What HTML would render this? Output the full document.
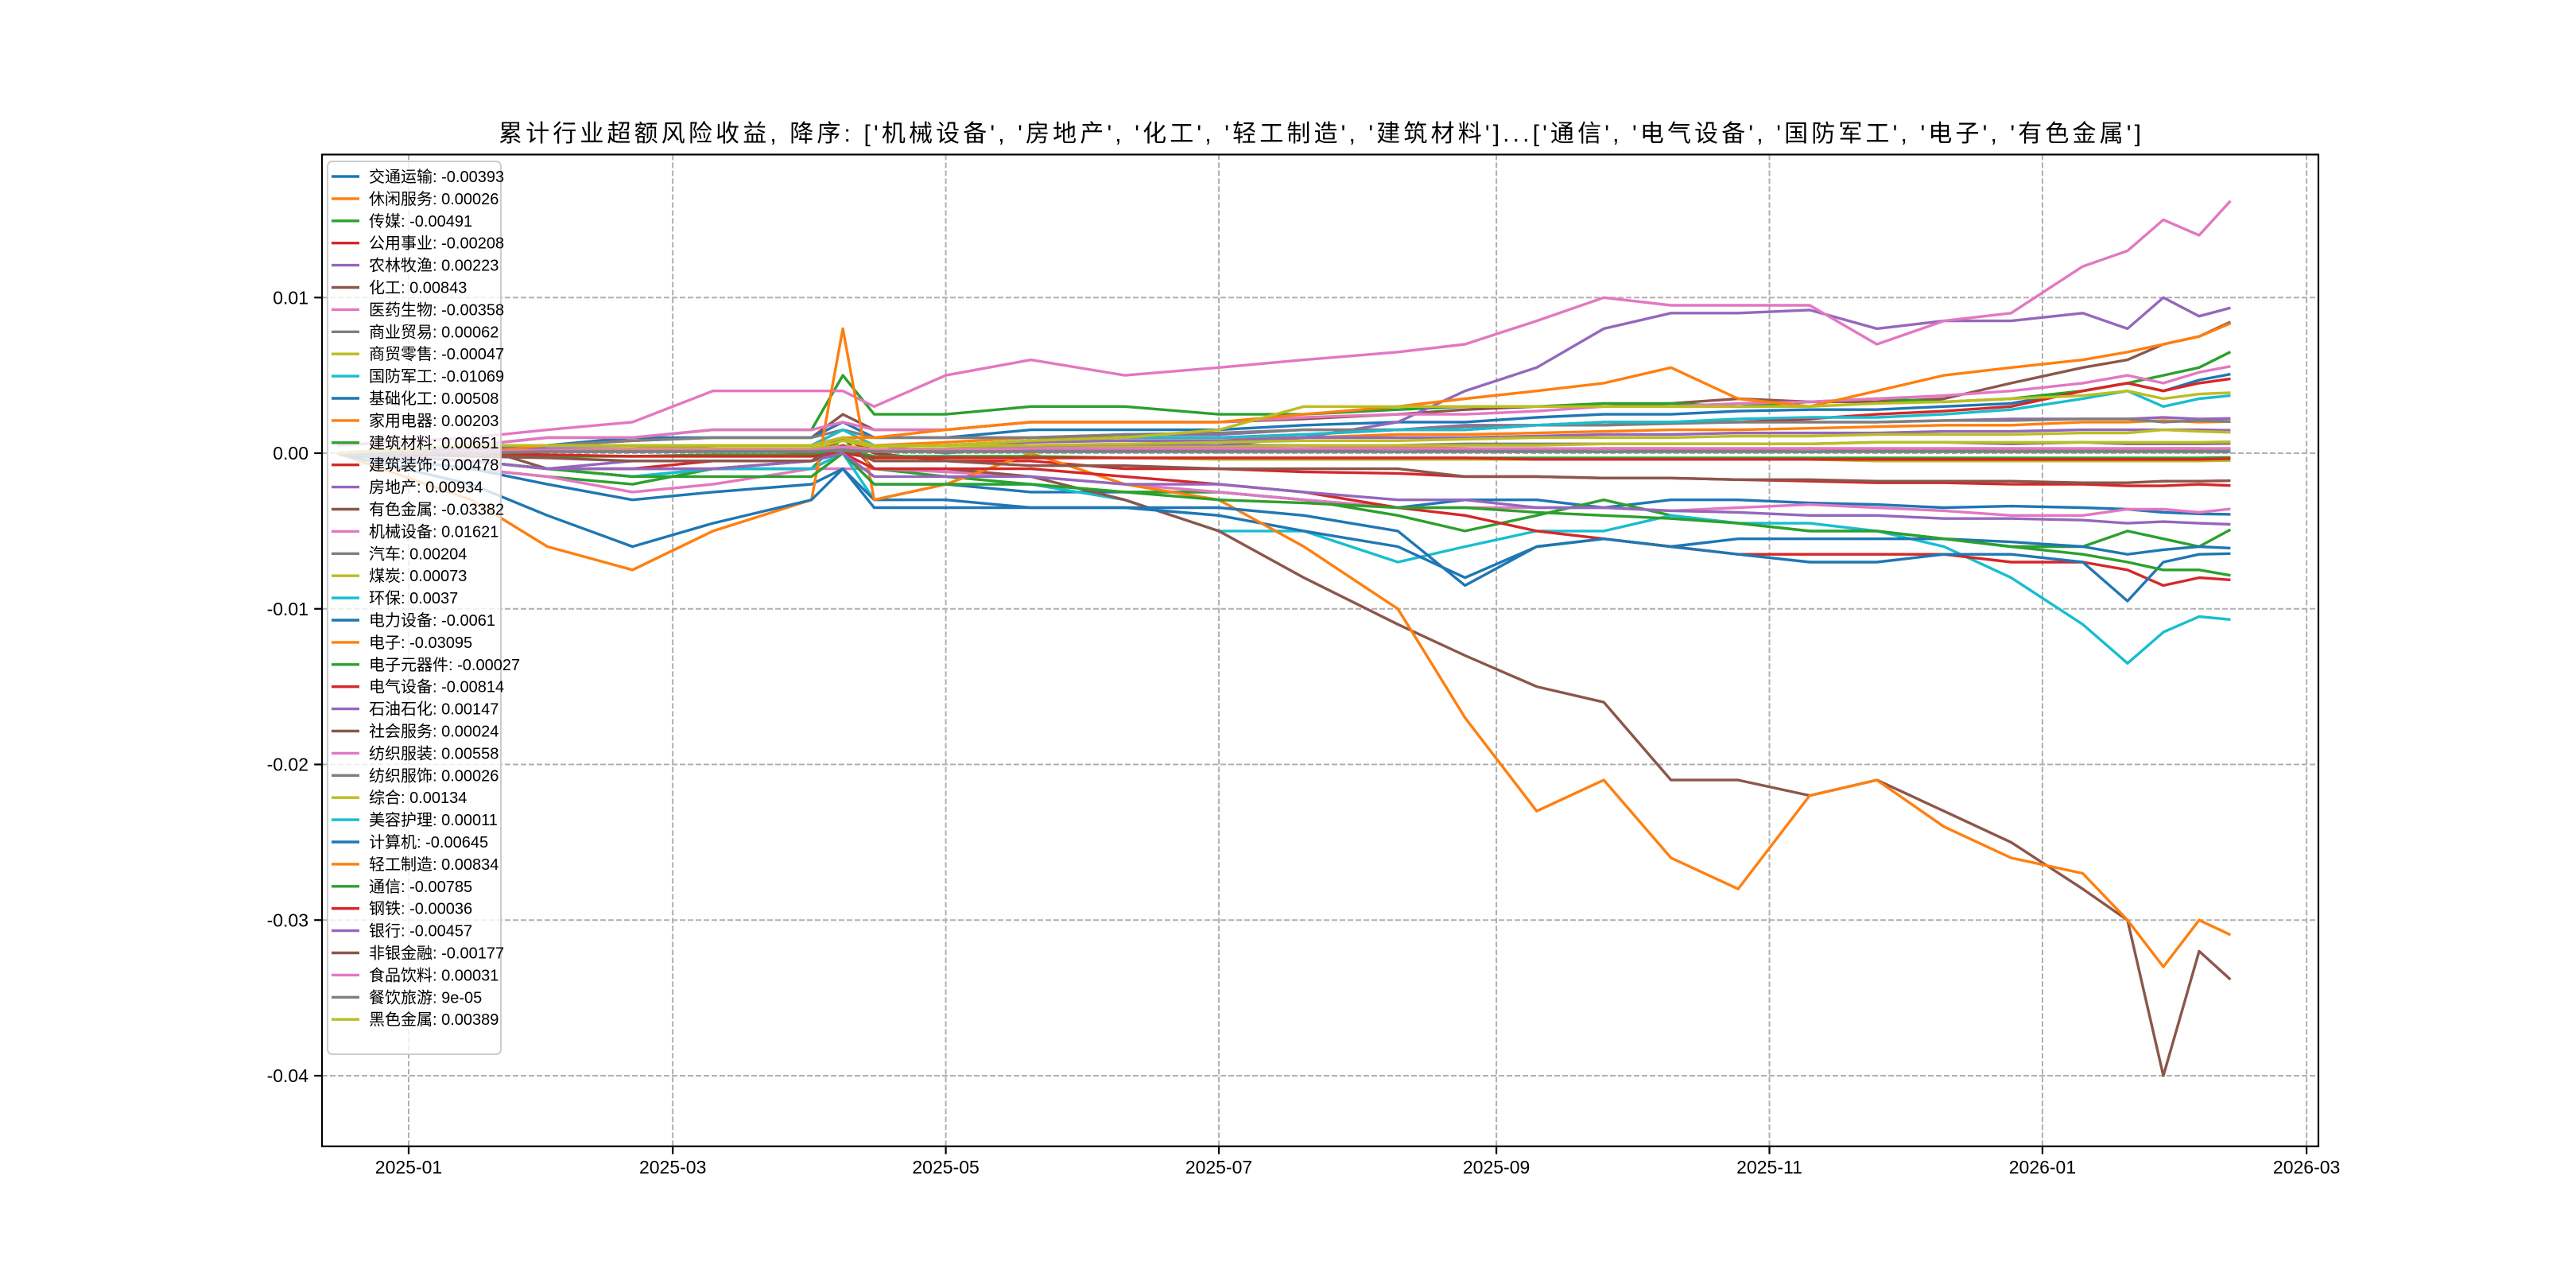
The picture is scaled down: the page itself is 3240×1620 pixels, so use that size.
<!DOCTYPE html>
<html><head><meta charset="utf-8">
<style>
html,body{margin:0;padding:0;background:#fff;}
svg{display:block;}
text{font-family:"Liberation Sans","Noto Sans CJK SC",sans-serif;}
</style></head>
<body>
<svg id="chart" xmlns="http://www.w3.org/2000/svg" width="3240" height="1620" viewBox="0 0 3240 1620">
<rect x="0" y="0" width="3240" height="1620" fill="#fff"/>
<text x="627" y="178" textLength="2066" lengthAdjust="spacing" font-size="30" fill="#000">累计行业超额风险收益,  降序: ['机械设备', '房地产', '化工', '轻工制造', '建筑材料']...['通信', '电气设备', '国防军工', '电子', '有色金属']</text>
<g id="grid"></g>
<g id="lines"></g>
<rect x="405" y="194.4" width="2511" height="1247.4" fill="none" stroke="#000" stroke-width="2.2"/>
<g id="ticks"></g>
<g id="legend"></g>
</svg>
<script>
const dates = ["2024-12-16","2025-01-15","2025-02-01","2025-02-20","2025-03-10","2025-04-01","2025-04-08","2025-04-15","2025-05-01","2025-05-20","2025-06-10","2025-07-01","2025-07-20","2025-08-10","2025-08-25","2025-09-10","2025-09-25","2025-10-10","2025-10-25","2025-11-10","2025-11-25","2025-12-10","2025-12-25","2026-01-10","2026-01-20","2026-01-28","2026-02-05","2026-02-12"];
const names = ["交通运输","休闲服务","传媒","公用事业","农林牧渔","化工","医药生物","商业贸易","商贸零售","国防军工","基础化工","家用电器","建筑材料","建筑装饰","房地产","有色金属","机械设备","汽车","煤炭","环保","电力设备","电子","电子元器件","电气设备","石油石化","社会服务","纺织服装","纺织服饰","综合","美容护理","计算机","轻工制造","通信","钢铁","银行","非银金融","食品饮料","餐饮旅游","黑色金属"];
const finalLabels = ["-0.00393","0.00026","-0.00491","-0.00208","0.00223","0.00843","-0.00358","0.00062","-0.00047","-0.01069","0.00508","0.00203","0.00651","0.00478","0.00934","-0.03382","0.01621","0.00204","0.00073","0.0037","-0.0061","-0.03095","-0.00027","-0.00814","0.00147","0.00024","0.00558","0.00026","0.00134","0.00011","-0.00645","0.00834","-0.00785","-0.00036","-0.00457","-0.00177","0.00031","9e-05","0.00389"];
// values in units of 1e-3
const s_jtys = [0,-.5,-1,-1.5,-1,-1,0,-2,-2,-2.5,-2.5,-2.5,-3,-3.5,-3,-3,-3.5,-3,-3,-3.2,-3.3,-3.5,-3.4,-3.5,-3.6,-3.8,-3.9,-3.93];
const s_xxfw = [0,.2,.3,.2,.3,.2,.5,.1,.2,.3,.2,.2,.3,.4,.3,.2,.3,.3,.2,.3,.2,.3,.2,.3,.2,.3,.3,.26];
const s_cm = [0,-1,-1.5,-2,-1,-1,1,-1,-1.5,-2,-2.5,-2.5,-3,-4,-5,-4,-3,-4,-4.5,-5,-5,-5.5,-6,-6,-5,-5.5,-6,-4.91];
const s_gysy = [0,0,.5,.5,.3,0,1,0,-.5,-.5,-1,-1,-1.2,-1.3,-1.5,-1.5,-1.6,-1.6,-1.7,-1.8,-1.9,-1.9,-2,-2,-2.1,-2.1,-2,-2.08];
const s_nlmy = [0,.3,.5,.5,.5,.5,1.5,1,1,1,1.2,1.2,1.5,1.5,1.8,1.8,1.8,2,2,2,2,2.1,2.2,2.2,2.2,2.3,2.2,2.23];
const s_hg = [0,.5,.5,.8,1,1,2.5,1.5,1.5,2,2,2,2.2,2.5,2.8,3,3,3.2,3.5,3.3,3.3,3.5,4.5,5.5,6,7,7.5,8.43];
const s_yysw = [0,-1,-1.5,-2.5,-2,-1,-1,-1,-1.2,-1.5,-2,-2.5,-3,-3.5,-3.5,-3.5,-3.5,-3.7,-3.5,-3.3,-3.5,-3.7,-4,-4,-3.6,-3.6,-3.8,-3.58];
const s_syjm = [0,0,.3,.3,.3,.3,.5,.2,.3,.4,.5,.5,.5,.5,.6,.6,.6,.6,.6,.6,.7,.7,.6,.7,.6,.6,.6,.62];
const s_smls = [0,0,-.2,-.2,-.2,-.2,0,-.3,-.3,-.3,-.3,-.4,-.4,-.4,-.4,-.4,-.4,-.4,-.4,-.4,-.5,-.5,-.5,-.5,-.5,-.5,-.5,-.47];
const s_gfjg = [0,-.5,-1,-1.5,-1,-1,0,-3,-2,-2,-3,-5,-5,-7,-6,-5,-5,-4,-4.5,-4.5,-5,-6,-8,-11,-13.5,-11.5,-10.5,-10.69];
const s_jchg = [0,.5,.5,1,1,1,2,1,1,1.5,1.5,1.5,1.8,2,2,2.3,2.5,2.5,2.7,2.8,2.8,3,3.2,4,4.5,4,4.7,5.08];
const s_jydq = [0,.3,.5,.5,.5,.5,1,.5,.7,1,1,1,1,1.2,1.2,1.3,1.4,1.5,1.5,1.6,1.7,1.8,1.8,2,2,2.1,2,2.03];
const s_jzcl = [0,.5,1,1,1.5,1.5,5,2.5,2.5,3,3,2.5,2.5,2.8,3,3,3.2,3.2,3,3.3,3.5,3.3,3.5,4,4.5,5,5.5,6.51];
const s_jzzs = [0,.5,.5,.5,.5,.5,1,.5,.5,.8,1,1,1.2,1.5,1.5,1.8,2,2,2,2.2,2.5,2.7,3,4,4.5,4,4.5,4.78];
const s_fdc = [0,-.5,-1,-.5,-.5,-.5,0,.5,0,.5,.5,.5,1,2,4,5.5,8,9,9,9.2,8,8.5,8.5,9,8,10,8.8,9.34];
const s_ysjs = [0,.5,-1,-1,-1,-.5,1,-1,-1,-1.5,-3,-5,-8,-11,-13,-15,-16,-21,-21,-22,-21,-23,-25,-28,-30,-40,-32,-33.82];
const s_jxsb = [.5,1,1.5,2,4,4,4,3,5,6,5,5.5,6,6.5,7,8.5,10,9.5,9.5,9.5,7,8.5,9,12,13,15,14,16.21];
const s_qc = [0,.3,.5,.8,1,1,1.5,1,1,1,1.2,1.3,1.5,1.5,1.7,1.8,1.8,1.9,2,2,2,2.1,2.1,2.2,2.2,2,2.1,2.04];
const s_mt = [0,0,.2,.2,.2,.2,.5,.2,.3,.3,.4,.4,.5,.5,.5,.5,.6,.6,.6,.6,.7,.7,.7,.7,.7,.7,.7,.73];
const s_hb = [0,0,.5,.5,.5,.5,1.5,.5,.5,.8,1,1,1.2,1.5,1.5,1.8,2,2,2.2,2.3,2.3,2.5,2.8,3.5,4,3,3.5,3.7];
const s_dlsb = [0,-1,-2,-3,-2.5,-2,-1,-3,-3,-3.5,-3.5,-4,-5,-6,-8,-6,-5.5,-6,-5.5,-5.5,-5.5,-5.5,-5.7,-6,-6.5,-6.2,-6,-6.1];
const s_dz = [0,-3,-6,-7.5,-5,-3,8,-3,-2,0,-2,-3,-6,-10,-17,-23,-21,-26,-28,-22,-21,-24,-26,-27,-30,-33,-30,-30.95];
const s_dzyqj = [0,0,-.2,-.2,-.1,-.1,.2,-.2,-.2,-.2,-.3,-.3,-.3,-.3,-.3,-.3,-.3,-.3,-.3,-.3,-.3,-.3,-.3,-.3,-.3,-.3,-.3,-.27];
const s_dqsb = [0,-.5,-1,-1,-.5,-.5,0,-1,-1,-1,-1.5,-2,-2.5,-3.5,-4,-5,-5.5,-6,-6.5,-6.5,-6.5,-6.5,-7,-7,-7.5,-8.5,-8,-8.14];
const s_syshh = [0,.2,.3,.3,.5,.5,1,.5,.5,.7,.8,.8,1,1,1,1.1,1.2,1.2,1.3,1.3,1.3,1.4,1.4,1.5,1.5,1.5,1.5,1.47];
const s_shfw = [0,.1,.2,.1,.2,.1,.4,.1,.2,.2,.2,.2,.2,.3,.2,.2,.3,.2,.2,.3,.2,.2,.3,.2,.3,.2,.2,.24];
const s_fzfz = [0,.5,1,1,1.5,1.5,2,1.5,1.5,2,2,2,2.3,2.5,2.5,2.7,3,3,3.2,3.3,3.5,3.7,4,4.5,5,4.5,5.2,5.58];
const s_fzfs = [0,.1,.2,.2,.2,.2,.3,.2,.2,.2,.3,.3,.3,.3,.3,.2,.3,.3,.3,.3,.3,.3,.3,.3,.3,.3,.3,.26];
const s_zh = [0,0,.2,.3,.3,.3,.8,.4,.5,.5,.6,.7,.8,.8,.9,1,1,1,1.1,1.1,1.2,1.2,1.2,1.3,1.3,1.5,1.4,1.34];
const s_mrhl = [0,0,.1,.1,.1,.1,.2,.1,.1,.1,.1,.1,.1,.1,.1,.1,.1,.1,.1,.1,.1,.1,.1,.1,.1,.1,.1,.11];
const s_jsj = [0,-2,-4,-6,-4.5,-3,-1,-3.5,-3.5,-3.5,-3.5,-3.5,-4,-5,-8.5,-6,-5.5,-6,-6.5,-7,-7,-6.5,-6.5,-7,-9.5,-7,-6.5,-6.45];
const s_qgzz = [0,0,.5,.5,.5,.5,1,1,1.5,2,2,2,2.5,3,3.5,4,4.5,5.5,3.5,3,4,5,5.5,6,6.5,7,7.5,8.34];
const s_tx = [0,-.5,-1,-1.5,-1.5,-1.5,0,-2,-2,-2,-2.5,-3,-3.2,-3.5,-3.5,-3.8,-4,-4.2,-4.5,-5,-5,-5.5,-6,-6.5,-7,-7.5,-7.5,-7.85];
const s_gt = [0,0,-.1,-.2,-.2,-.2,0,-.3,-.3,-.3,-.3,-.3,-.3,-.3,-.3,-.4,-.4,-.4,-.4,-.4,-.4,-.4,-.4,-.4,-.4,-.4,-.4,-.36];
const s_yh = [0,-.5,-1,-1,-1,-.5,0,-1.5,-1.5,-1.5,-2,-2,-2.5,-3,-3,-3.5,-3.5,-3.7,-3.8,-4,-4,-4.2,-4.2,-4.3,-4.5,-4.4,-4.5,-4.57];
const s_fyjr = [0,-.2,-.3,-.5,-.5,-.5,.5,-.5,-.5,-.8,-.8,-1,-1,-1,-1.5,-1.5,-1.6,-1.6,-1.7,-1.7,-1.8,-1.8,-1.8,-1.9,-1.9,-1.8,-1.8,-1.77];
const s_spyl = [0,.1,.2,.2,.2,.2,.4,.2,.2,.3,.3,.3,.3,.3,.3,.3,.3,.3,.3,.3,.3,.3,.3,.3,.3,.3,.3,.31];
const s_cyly = [0,0,.1,.1,.1,.1,.2,.1,.1,.1,.1,.1,.1,.1,.1,.1,.1,.1,.1,.1,.1,.1,.1,.1,.1,.1,.1,.09];
const s_hsjs = [0,.5,.5,.5,.5,.5,1,.5,.5,.8,1,1.5,3,3,3,3,3,3,3,3,3.2,3.3,3.5,3.7,4,3.5,3.8,3.89];
const seriesList = [s_jtys,s_xxfw,s_cm,s_gysy,s_nlmy,s_hg,s_yysw,s_syjm,s_smls,s_gfjg,s_jchg,s_jydq,s_jzcl,s_jzzs,s_fdc,s_ysjs,s_jxsb,s_qc,s_mt,s_hb,s_dlsb,s_dz,s_dzyqj,s_dqsb,s_syshh,s_shfw,s_fzfz,s_fzfs,s_zh,s_mrhl,s_jsj,s_qgzz,s_tx,s_gt,s_yh,s_fyjr,s_spyl,s_cyly,s_hsjs];
const yTicks = [0.01,0,-0.01,-0.02,-0.03,-0.04];
const yTickLabels = ["0.01","0.00","-0.01","-0.02","-0.03","-0.04"];
const xTicks = ["2025-01-01","2025-03-01","2025-05-01","2025-07-01","2025-09-01","2025-11-01","2026-01-01","2026-03-01"];
const xTickLabels = ["2025-01","2025-03","2025-05","2025-07","2025-09","2025-11","2026-01","2026-03"];

const colors = ["#1f77b4","#ff7f0e","#2ca02c","#d62728","#9467bd","#8c564b","#e377c2","#7f7f7f","#bcbd22","#17becf"];
const NS = "http://www.w3.org/2000/svg";
const AX = {l:405, r:2916, t:194.4, b:1441.8};
const dayOf = s => { const [y,m,d]=s.split("-").map(Number); return (Date.UTC(y,m-1,d)-Date.UTC(2025,0,1))/86400000; };
const xScale = s => 514 + 5.63*dayOf(s);
const yScale = v => 570 - v*19575;
function mk(tag, attrs, parent){ const e=document.createElementNS(NS,tag); for(const k in attrs) e.setAttribute(k,attrs[k]); parent.appendChild(e); return e; }

const grid = document.getElementById("grid");
const ticks = document.getElementById("ticks");
yTicks.forEach((v,i)=>{
  const y = yScale(v);
  const g = mk("line",{x1:AX.l,x2:AX.r,y1:y,y2:y,stroke:"#b0b0b0","stroke-width":2,"stroke-dasharray":"7,3"},grid);
  
  
  const t = mk("line",{x1:AX.l-9.8,x2:AX.l,y1:y,y2:y,stroke:"#000","stroke-width":2.2},ticks);
  
  
  const lb = mk("text",{x:AX.l-17,y:y+8,"text-anchor":"end","font-size":23,fill:"#000"},ticks);
  lb.textContent = yTickLabels[i];
  
  
});
xTicks.forEach((d,i)=>{
  const x = xScale(d);
  const g = mk("line",{x1:x,x2:x,y1:AX.t,y2:AX.b,stroke:"#b0b0b0","stroke-width":2,"stroke-dasharray":"7,3"},grid);
  
  
  const t = mk("line",{x1:x,x2:x,y1:AX.b,y2:AX.b+9.8,stroke:"#000","stroke-width":2.2},ticks);
  
  
  const lb = mk("text",{x:x,y:AX.b+34,"text-anchor":"middle","font-size":23,fill:"#000"},ticks);
  lb.textContent = xTickLabels[i];
  
  
});

const lines = document.getElementById("lines");
seriesList.forEach((arr,i)=>{
  const pts = arr.map((v,j)=>xScale(dates[j]).toFixed(1)+","+yScale(v*0.001).toFixed(1)).join(" ");
  const p = mk("polyline",{points:pts,fill:"none",stroke:colors[i%10],"stroke-width":3.4,"stroke-linejoin":"round"},lines);
  
  
});

const legend = document.getElementById("legend");
const lf = mk("rect",{x:412,y:203,width:218,height:1123,rx:6,fill:"#fff","fill-opacity":0.8,stroke:"#cccccc","stroke-width":2},legend);


names.forEach((n,i)=>{
  const y = 222 + i*27.9;
  const h = mk("line",{x1:417,x2:452,y1:y,y2:y,stroke:colors[i%10],"stroke-width":3.4},legend);
  
  
  const t = mk("text",{x:464,y:y+7,"font-size":20,fill:"#000"},legend);
  t.textContent = n + ": " + finalLabels[i];
  
  
});
</script>
</body></html>
